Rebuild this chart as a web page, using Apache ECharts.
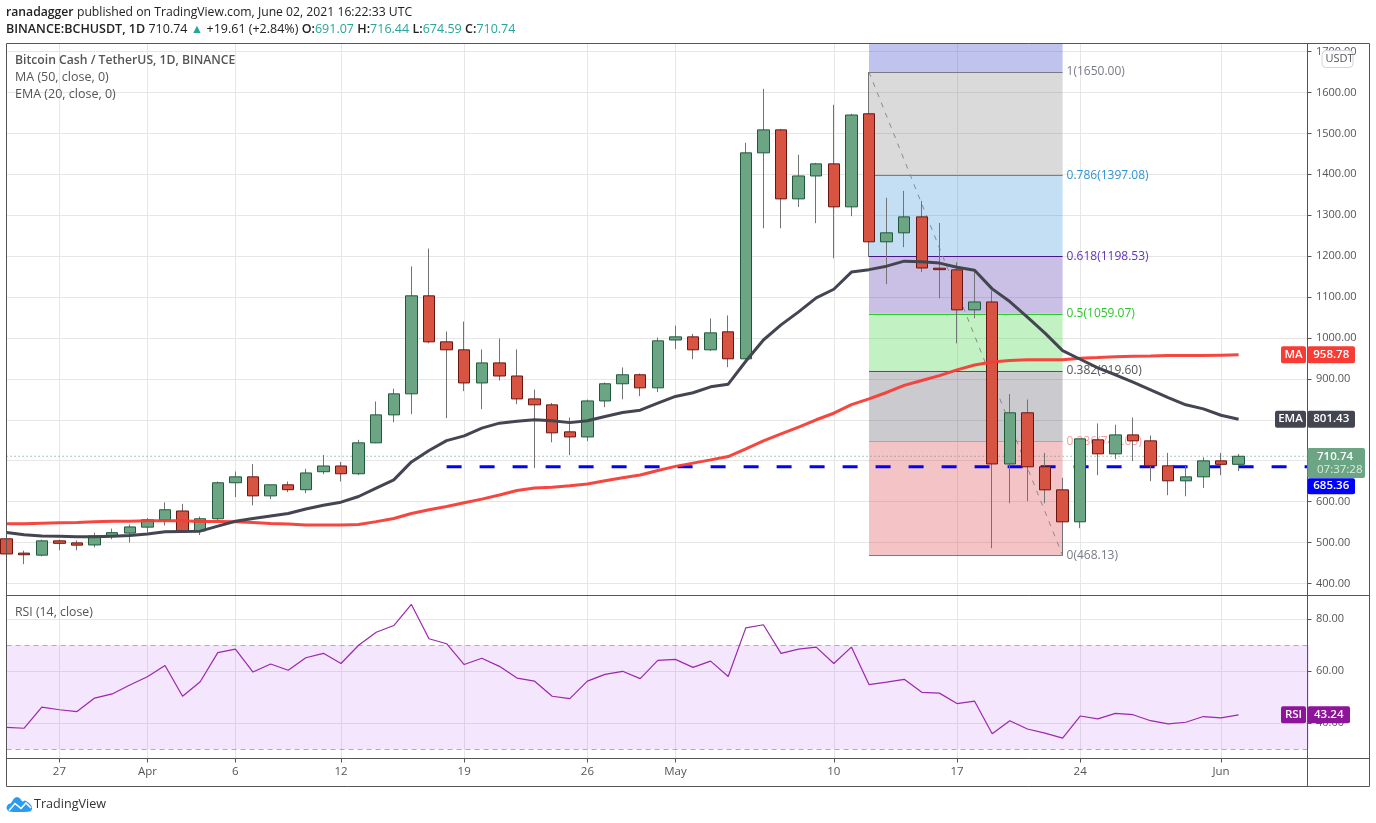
<!DOCTYPE html>
<html><head><meta charset="utf-8">
<style>html,body{margin:0;padding:0;background:#fff}#c{width:1376px;height:823px}</style>
<script src="https://cdn.jsdelivr.net/npm/echarts@6/dist/echarts.min.js"></script>
</head><body><div id="c"></div>
<script>
// Dates, Mar 24 -> Jun 6 2021
const dates = ["Mar 24","Mar 25","Mar 26","Mar 27","Mar 28","Mar 29","Mar 30","Mar 31","Apr 1","Apr 2","Apr 3","Apr 4","Apr 5","Apr 6","Apr 7","Apr 8","Apr 9","Apr 10","Apr 11","Apr 12","Apr 13","Apr 14","Apr 15","Apr 16","Apr 17","Apr 18","Apr 19","Apr 20","Apr 21","Apr 22","Apr 23","Apr 24","Apr 25","Apr 26","Apr 27","Apr 28","Apr 29","Apr 30","May 1","May 2","May 3","May 4","May 5","May 6","May 7","May 8","May 9","May 10","May 11","May 12","May 13","May 14","May 15","May 16","May 17","May 18","May 19","May 20","May 21","May 22","May 23","May 24","May 25","May 26","May 27","May 28","May 29","May 30","May 31","Jun 1","Jun 2","Jun 3","Jun 4","Jun 5","Jun 6"];
const dateTicks = {"Mar 27":"27","Apr 1":"Apr","Apr 6":"6","Apr 12":"12","Apr 19":"19","Apr 26":"26","May 1":"May","May 10":"10","May 17":"17","May 24":"24","Jun 1":"Jun"};
// open, close, low, high
const ohlc = [
[509,472,465,520],[474,470,447,480],[469,504,466,507],[504,498,481,507],[499,493.5,481,505],[494,516,488,524],[516,524,508,534],[523,538,500,544],[537.5,555.4,524,560],[555,580,541.5,598],
[577,528.5,524,594.5],[528.5,558,518,563.5],[558,646,554,649],[646,660.5,611,673.5],[660.5,614,591,692],[614,641,606,641],[641,629,623,649],[629,670,620.5,680],[673,687,667,714],[687,668,649,697],
[668,743.6,664.6,751],[743.6,812,743,844.7],[812,863.4,794,876],[863.4,1103,813.7,1175],[1103,990.5,987,1218.6],[990.5,971,804,1016],[971,890,870,1040],[890,939,826,972],[939,907,896,998.6],[907,851,838,972],
[851,836.5,682,874],[836.5,768,745,841],[770.5,758,713.5,805.5],[758,846,747.7,849.5],[846,888,831,891],[888,910,850,928],[910,878,857.7,913],[878,993,867.5,1001],[995,1002.7,972.6,1030],[1002.7,971,948,1010],
[971,1012.5,968.5,1047.6],[1015,949,928.6,1055],[949,1452.5,947,1477],[1452.5,1508.7,1268,1609],[1508.7,1340,1268,1511],[1340,1396,1320,1447.6],[1396,1425.6,1280.6,1428],[1425.6,1320.5,1195,1570],[1320.5,1545,1297.7,1548],[1548,1235,1198,1650],
[1235,1257,1131.5,1342.5],[1257,1296,1222,1359.6],[1296,1171,1161,1335],[1170.5,1167,1097,1281],[1166.5,1068.7,987,1185],[1068.7,1088,1048,1165],[1088,692,486,1116],[692,817,596,863],[817,685,601,849.5],[685,628.7,596,719],
[628.7,550.5,468.13,658],[550.5,753.4,535,753.4],[751,716.7,664.6,791],[716.7,763,703.7,788],[763,748.5,699,805.5],[748.5,687.4,650,761.5],[687.4,650.7,615.7,719],[650.7,660.5,613,687],[660.5,699.6,633,708],[699.6,691.07,664.6,719],
[691.07,710.74,674.59,716.44]];
const ema20 = [524.4,518.7,516,515.5,514,514,515.5,517,521,526,527,527.7,540,552,558.7,565,571,582,591,598.6,612.4,633,653,697,725,749,760.7,779.5,791.7,796.6,800,797.4,793,797.4,808,817.8,823.5,840.6,857,866,880.5,887,943,995,1032,1063.8,1098,1119,1161,1167,1175.5,1187.7,1186,1183,1173,1165.7,1120,1089,1051,1011.7,969,948,927,910,892,873,854,836.5,826.7,811,801.43];
const ma50 = [545.6,546,547,548,549,550.5,552,552,553,553,553,551,551,550.5,549,546.4,545,543,543,543,544,551,558.7,571,580,588,597,606,616,627,633,635,638.5,643,651,658,665,676,686,694,702,710,729,748.5,765.6,782,800,816,837,851,866.7,884,896,908,922,934,941,945,946.5,946.5,947,950.6,952,954,955.5,956,957,957,957,958,958.78];
const rsi14 = [38.4,38.1,46.2,45.2,44.5,49.7,51.3,54.7,57.9,62.2,50.4,56,67.2,68.5,59.7,62.8,60.4,65.2,66.9,63,70,75,77.6,85.7,72.5,70.6,62.6,65,61.9,57.4,56.2,50.4,49.5,56.2,58.8,60,57.2,64.2,64.6,61.5,63.9,58,76.7,77.9,66.9,68.5,69.3,63,69.3,54.9,55.8,56.9,51.9,51.6,47.6,48.5,36,41,37.8,36.2,34.3,42.8,41.7,43.8,43.3,41,39.8,40.4,42.6,42.1,43.24];
const priceTicks = [400,500,600,700,800,900,1000,1100,1200,1300,1400,1500,1600,1700];
const rsiTicks = [40,60,80];
const fibLevels = [
 {r:"1",v:1650,line:"#787b86",text:"#787b86",fill:"rgba(120,120,120,0.27)"},
 {r:"0.786",v:1397.08,line:"#2e95d3",text:"#2e95d3",fill:"rgba(60,150,215,0.30)"},
 {r:"0.618",v:1198.53,line:"#4a148c",text:"#5e35b1",fill:"rgba(81,45,168,0.30)"},
 {r:"0.5",v:1059.07,line:"#2fc52f",text:"#2fc52f",fill:"rgba(76,217,80,0.34)"},
 {r:"0.382",v:919.6,line:"#555555",text:"#555555",fill:"rgba(80,80,95,0.30)"},
 {r:"0.236",v:747.05,line:"#ee8a8a",text:"#f4a0a0",fill:"rgba(224,80,85,0.34)"},
 {r:"0",v:468.13,line:"#787b86",text:"#787b86",fill:null}];
const fibTopFill = "rgba(92,98,214,0.38)";
const fibStart = "May 12", fibEnd = "May 23";
const supportLevel = 685.36, lastPrice = 710.74, maLast = 958.78, emaLast = 801.43, rsiLast = 43.24;

const FONT = '"Open Sans", sans-serif';
const GRID = "#e6e6e6", FRAME = "#555555", TXT = "#555555";
const up = "#6ba583", upB = "#1f5a3c", dn = "#d75442", dnB = "#6b1510", wick = "#737375";
const xInterval = i => dateTicks[dates[i]] !== undefined;
const pad = a => a.concat(new Array(dates.length - a.length).fill(null));
const iStart = dates.indexOf("Apr 18");

const chart = echarts.init(document.getElementById('c'), null, {renderer:'canvas', width:1376, height:823});

const fibAreas = [];
fibLevels.forEach((l, i) => {
  const upper = i === 0 ? 1718.6 : fibLevels[i-1].v;
  const fill = i === 0 ? fibTopFill : fibLevels[i-1].fill;
  fibAreas.push([{xAxis:fibStart, yAxis:upper, itemStyle:{color:fill}}, {xAxis:fibEnd, yAxis:l.v}]);
});
const fibLines = fibLevels.map(l => [
  {coord:[fibStart,l.v], lineStyle:{color:l.line,width:1,type:'solid'}, label:{show:true, position:'end', formatter:l.r+"("+l.v.toFixed(2)+")", color:l.text, fontFamily:FONT, fontSize:12, distance:4}},
  {coord:[fibEnd,l.v]}
]);
fibLines.push([
  {coord:[fibStart,1650], lineStyle:{color:'#8a8a8a',width:1,type:[5,6]}, label:{show:false}},
  {coord:[fibEnd,468.13]}
]);

const option = {
  animation:false, backgroundColor:'#ffffff',
  grid:[
    {left:6.6, right:67, top:44, height:551.5, containLabel:false},
    {left:6.6, right:67, top:595.5, height:163}
  ],
  xAxis:[
    {type:'category', gridIndex:0, data:dates, boundaryGap:false, axisLine:{show:false}, axisTick:{show:false}, axisLabel:{show:false},
      splitLine:{show:true, interval:xInterval, lineStyle:{color:GRID,width:1}}},
    {type:'category', gridIndex:1, data:dates, boundaryGap:false, axisLine:{show:false},
      axisTick:{show:true, interval:xInterval, length:4, lineStyle:{color:FRAME}},
      axisLabel:{show:true, interval:xInterval, formatter:v=>dateTicks[v]||'', color:TXT, fontFamily:FONT, fontSize:11.5, margin:7, hideOverlap:false},
      splitLine:{show:true, interval:xInterval, lineStyle:{color:GRID,width:1}}}
  ],
  yAxis:[
    {type:'value', gridIndex:0, position:'right', offset:-1.5, min:370.4, max:1718.6, scale:true,
      axisLine:{show:false}, axisTick:{show:true, length:4, lineStyle:{color:FRAME}, customValues:priceTicks},
      axisLabel:{show:true, color:TXT, fontFamily:FONT, fontSize:11, margin:8.5, customValues:priceTicks, formatter:v=>v.toFixed(2)},
      splitLine:{show:true, lineStyle:{color:GRID,width:1}, customValues:priceTicks}},
    {type:'value', gridIndex:1, position:'right', offset:-1.5, min:26.46, max:89.15, scale:true,
      axisLine:{show:false}, axisTick:{show:true, length:4, lineStyle:{color:FRAME}, customValues:rsiTicks},
      axisLabel:{show:true, color:TXT, fontFamily:FONT, fontSize:11, margin:8.5, customValues:rsiTicks, formatter:v=>v.toFixed(2)},
      splitLine:{show:true, lineStyle:{color:GRID,width:1}, customValues:rsiTicks}}
  ],
  series:[
    {name:'Fib', type:'line', xAxisIndex:0, yAxisIndex:0, data:[], z:1, silent:true,
      markArea:{silent:true, z:1, data:fibAreas},
      markLine:{silent:true, z:1, symbol:'none', animation:false, data:fibLines}},
    {name:'Last', type:'line', xAxisIndex:0, yAxisIndex:0, data:dates.map(()=>lastPrice), symbol:'none', z:2, silent:true,
      lineStyle:{color:'#5b9c7d', width:1, type:[1,3]}},
    {name:'Support', type:'line', xAxisIndex:0, yAxisIndex:0, symbol:'none', z:2, silent:true,
      data:dates.map((d,i)=> i>=iStart ? supportLevel : null), lineStyle:{color:'#0000ff', width:3, type:[15,18]}},
    {name:'Wicks', type:'candlestick', xAxisIndex:0, yAxisIndex:0, z:3, barWidth:1, silent:true, data:ohlc,
      itemStyle:{color:wick,color0:wick,borderColor:wick,borderColor0:wick,borderWidth:1}},
    {name:'Bodies', type:'candlestick', xAxisIndex:0, yAxisIndex:0, z:4, barWidth:12, silent:true,
      data:ohlc.map(d=>[d[0],d[1],Math.min(d[0],d[1]),Math.max(d[0],d[1])]),
      itemStyle:{color:up,color0:dn,borderColor:upB,borderColor0:dnB,borderWidth:1}},
    {name:'MA', type:'line', xAxisIndex:0, yAxisIndex:0, data:pad(ma50), symbol:'none', z:5, silent:true,
      lineStyle:{color:'#f63c35', width:3, opacity:0.95}},
    {name:'EMA', type:'line', xAxisIndex:0, yAxisIndex:0, data:pad(ema20), symbol:'none', z:6, silent:true,
      lineStyle:{color:'#434651', width:3}},
    {name:'RSI', type:'line', xAxisIndex:1, yAxisIndex:1, data:pad(rsi14), symbol:'none', z:6, silent:true,
      lineStyle:{color:'#9c27b0', width:1.2},
      markArea:{silent:true, itemStyle:{color:'rgba(170,60,230,0.13)'}, data:[[{yAxis:70},{yAxis:30}]]},
      markLine:{silent:true, symbol:'none', label:{show:false}, lineStyle:{color:'#b6a9bb',type:[5,4],width:1}, data:[{yAxis:70},{yAxis:30}]}}
  ]
};
chart.setOption(option);

function hline(x1,x2,y){return {type:'line',shape:{x1:x1,y1:y,x2:x2,y2:y},style:{stroke:FRAME,lineWidth:1},z:50,silent:true};}
function vline(x,y1,y2){return {type:'line',shape:{x1:x,y1:y1,x2:x,y2:y2},style:{stroke:FRAME,lineWidth:1},z:50,silent:true};}
function box(x,y,w,h,fill,text,color,size){
  const r = {type:'rect',shape:{x:x,y:y,width:w,height:h,r:2},style:{fill:fill},z:60,silent:true};
  const t = {type:'text',x:x+w/2,y:y+h/2,style:{text:text,fill:color||'#fff',font:'600 '+(size||11.5)+'px '+FONT,align:'center',verticalAlign:'middle'},z:61,silent:true};
  return [r,t];
}
function txt(x,y,text,color,font){return {type:'text',x:x,y:y,style:{text:text,fill:color,font:font,verticalAlign:'middle'},z:62,silent:true};}

const yP = v => chart.convertToPixel({yAxisIndex:0}, v);
const yR = v => chart.convertToPixel({yAxisIndex:1}, v);
const G = '#26a69a';
const gfx = [
  vline(6.5,43.5,786.5), vline(1307.5,43.5,786.5), vline(1369.5,43.5,786.5),
  hline(6.5,1369.5,43.5), hline(6.5,1369.5,595.5), hline(6.5,1369.5,758.5), hline(6.5,1369.5,786.5),
  {type:'rect',shape:{x:1322,y:50.5,width:31,height:17,r:4},style:{fill:'rgba(255,255,255,0.92)',stroke:'#d1d4dc',lineWidth:1},z:60,silent:true},
  txt(1325.5,59.2,'USDT',TXT,'11px '+FONT),
  ...box(1281,yP(maLast)-8.5,25,17,'#f63c35','MA'),
  ...box(1307.5,yP(maLast)-8.5,47.5,17,'#f63c35',maLast.toFixed(2)),
  ...box(1275,yP(emaLast)-8.5,31,17,'#434651','EMA'),
  ...box(1307.5,yP(emaLast)-8.5,47.5,17,'#434651',emaLast.toFixed(2)),
  ...box(1307.5,yP(supportLevel)+11.5,47.5,16,'#0000ff',supportLevel.toFixed(2)),
  {type:'rect',shape:{x:1307.5,y:448,width:57.5,height:30,r:2},style:{fill:'#6ba583'},z:60,silent:true},
  txt(1317,456.5,lastPrice.toFixed(2),'#fff','600 11.5px '+FONT),
  txt(1317,470,'07:37:28','#dcebe2','11.5px '+FONT),
  ...box(1281,yR(rsiLast)-8.5,25,17,'#8e1599','RSI'),
  ...box(1307.5,yR(rsiLast)-8.5,42.5,17,'#8e1599',rsiLast.toFixed(2)),
  txt(15,60.5,'Bitcoin Cash / TetherUS, 1D, BINANCE',TXT,'600 12.2px '+FONT),
  txt(15,77.5,'MA (50, close, 0)',TXT,'12.5px '+FONT),
  txt(15,94.5,'EMA (20, close, 0)',TXT,'12.5px '+FONT),
  txt(15,612.5,'RSI (14, close)',TXT,'12.3px '+FONT),
  {type:'text',x:6,y:12.5,z:62,silent:true,style:{
    rich:{b:{font:'600 12.2px '+FONT,fill:'#222'},n:{font:'12.2px '+FONT,fill:'#222'}},
    text:'{b|ranadagger} {n|published on TradingView.com, June 02, 2021 16:22:33 UTC}', verticalAlign:'middle'}},
  {type:'text',x:6,y:29.5,z:62,silent:true,style:{
    rich:{b:{font:'600 12.5px '+FONT,fill:'#222'},n:{font:'12.5px '+FONT,fill:'#222'},g:{font:'12.5px '+FONT,fill:G}},
    text:'{b|BINANCE:BCHUSDT, 1D} {n|710.74} {g|▲} {n|+19.61 (+2.84%)} {b|O:}{g|691.07} {b|H:}{g|716.44} {b|L:}{g|674.59} {b|C:}{g|710.74}', verticalAlign:'middle'}},
  {type:'polygon',z:62,silent:true,shape:{points:[[6.5,808],[8,804.5],[11,803],[14,798.5],[17,797],[20,798.5],[22.5,801.5],[25,800.5],[29,803],[31.5,806],[32,809],[30,811.5],[9,811.5]],smooth:0.3},style:{fill:'#2a9cf0'}},
  {type:'polyline',z:63,silent:true,shape:{points:[[9,810.5],[15,803.5],[21,808.5],[26,803],[31,808]]},style:{stroke:'#ffffff',fill:'none',lineWidth:1.6}},
  txt(34,804.5,'TradingView','#333333','12.6px '+FONT)
];
chart.setOption({graphic:{elements:gfx}});
</script></body></html>
